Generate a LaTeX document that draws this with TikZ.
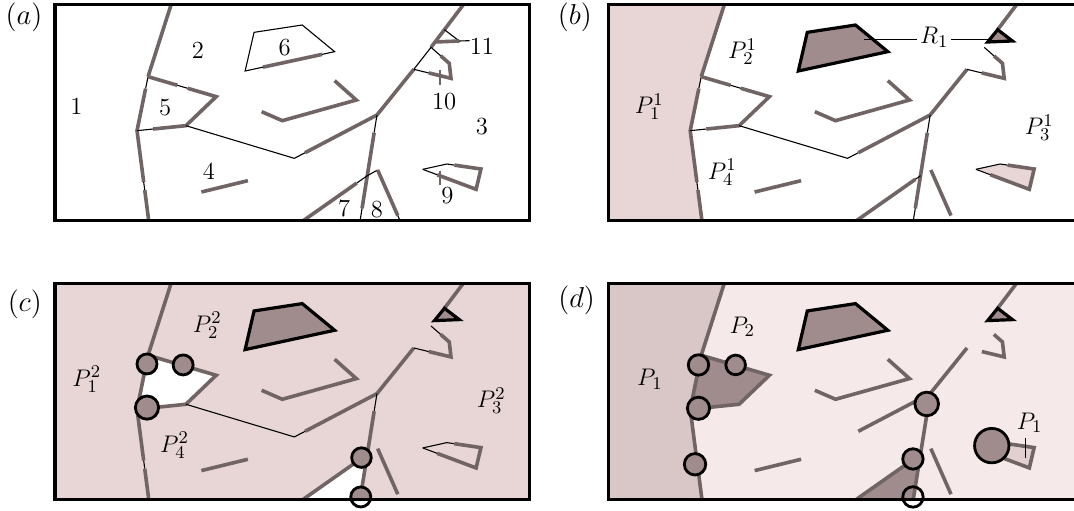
\documentclass[tikz,border=0pt]{standalone}
\usepackage{fontspec}
\usetikzlibrary{calc}
\definecolor{gline}{RGB}{112,100,100}
\definecolor{dfill}{RGB}{160,140,140}
\definecolor{pinkA}{RGB}{232,214,214}
\definecolor{pinkL}{RGB}{245,233,233}
\definecolor{pinkD}{RGB}{217,199,199}
\definecolor{pinkN}{RGB}{226,207,207}
\newcommand\dgPts{%
\coordinate (FR1) at (160,14); \coordinate (FR2) at (1537,662); \coordinate (FR3) at (160,662);
\coordinate (L0) at (497,14); \coordinate (L1) at (430,230); \coordinate (L2) at (398,392); \coordinate (L3) at (432,662);
\coordinate (F1) at (628,290); \coordinate (F2) at (540,377);
\coordinate (M1) at (855,475); \coordinate (J) at (1095,345);
\coordinate (T1) at (1202,208); \coordinate (T2) at (1252,142);
\coordinate (Q1) at (1262,126); \coordinate (Q2) at (1291,89); \coordinate (Q3) at (1334,123);
\coordinate (R0) at (1346,14);
\coordinate (P10a) at (1305,190); \coordinate (P10b) at (1310,235);
\coordinate (S1) at (738,97); \coordinate (S2) at (878,75); \coordinate (S3) at (972,155); \coordinate (S4) at (712,213);
\coordinate (V1) at (972,242); \coordinate (V2) at (1035,300); \coordinate (V3) at (820,362); \coordinate (V4) at (760,335);
\coordinate (G1) at (585,576); \coordinate (G2) at (720,542);
\coordinate (B1) at (1046,662);
\coordinate (E1) at (881,662); \coordinate (X) at (1067,527); \coordinate (K) at (1097,510); \coordinate (E2) at (1162,662);
\coordinate (N1) at (1228,508); \coordinate (N2) at (1298,492); \coordinate (N3) at (1397,507); \coordinate (N4) at (1383,568);
}
\newcommand\dgChain{%
\draw[gl] (L0) -- (L1);
\draw[tl] (L1) -- ($(L1)!0.22!(L2)$);
\draw[gl] ($(L1)!0.22!(L2)$) -- (L2) -- ($(L2)!0.57!(L3)$);
\draw[tl] ($(L2)!0.57!(L3)$) -- ($(L2)!0.66!(L3)$);
\draw[gl] ($(L2)!0.66!(L3)$) -- (L3);}
\newcommand\dgFive{%
\draw[gl] (L1) -- ($(L1)!0.43!(F1)$);
\draw[tl] ($(L1)!0.43!(F1)$) -- ($(L1)!0.58!(F1)$);
\draw[gl] ($(L1)!0.58!(F1)$) -- (F1) -- (F2) -- ($(F2)!0.67!(L2)$);
\draw[tl] ($(F2)!0.67!(L2)$) -- (L2);}
\newcommand\dgMid{%
\draw[tl] (F2) -- (M1) -- ($(M1)!0.13!(J)$);
\draw[gl] ($(M1)!0.13!(J)$) -- (J) -- (T1);}
\newcommand\dgTen{%
\draw[tl] (T2) -- ($(T2)!0.53!(P10a)$);
\draw[gl] ($(T2)!0.53!(P10a)$) -- (P10a) -- (P10b) -- ($(P10b)!0.6!(T1)$);
\draw[tl] ($(P10b)!0.6!(T1)$) -- (T1);}
\newcommand\dgVee{\draw[gl] (V1) -- (V2) -- (V3) -- (V4); \draw[gl] (G1) -- (G2);}
\newcommand\dgVert{%
\draw[tl] (J) -- ($(J)!0.167!(B1)$);
\draw[gl] ($(J)!0.167!(B1)$) -- ($(J)!0.883!(B1)$);
\draw[tl] ($(J)!0.883!(B1)$) -- (B1);}
\newcommand\dgNine{%
\draw[tl] (N1) -- (N2) -- ($(N2)!0.22!(N3)$);
\draw[gl] ($(N2)!0.22!(N3)$) -- (N3) -- (N4) -- ($(N4)!0.73!(N1)$);
\draw[tl] ($(N4)!0.73!(N1)$) -- (N1);}
\newcommand\dgObst{%
\draw[gl] (Q2) -- (R0);
\draw[obst] (S1) -- (S2) -- (S3) -- (S4) -- cycle;
\draw[obst] (Q1) -- (Q2) -- (Q3) -- cycle;}
\newcommand\dgRing[3]{\node[ringo,minimum size=#3] (#1) at #2 {};}
\newcommand\dgRingF[3]{\node[ringf,minimum size=#3] (#1f) at #2 {};}
\begin{document}
\begin{tikzpicture}[x=0.5pt,y=-0.5pt,
  gl/.style={draw=gline,line width=1.8pt},
  tl/.style={draw=black,line width=0.55pt},
  gtick/.style={draw=gline,line width=0.9pt},
  framebox/.style={draw=black,line width=1.6pt},
  obst/.style={draw=black,line width=1.6pt,fill=dfill},
  ringo/.style={circle,draw=black,line width=1.4pt,inner sep=0pt},
  ringf/.style={circle,fill=dfill,inner sep=0pt},
  lab/.style={font=\fontsize{12.3}{14}\selectfont,inner sep=0pt},
  plab/.style={font=\fontsize{14.5}{17}\selectfont,inner sep=0pt}]
\clip (0,0) rectangle (1074,510);
\fill[white] (0,0) rectangle (1074,510);
% ---------------- (a)
\begin{scope}[xscale=1/2.905,yscale=1/3]
\dgPts
\dgChain
\dgFive
\dgMid
\draw[tl] (T1) -- (T2);
\draw[gl] (T2) -- (R0);
\dgTen
\draw[gtick] (1278,210) -- (1278,255);
\coordinate (l11) at (1364,122);
\draw[tl] (Q2) -- (Q3) -- (l11);
\draw[gl] (Q1) -- (Q3);
\draw[tl] (S1) -- (S2) -- (S3) -- ($(S3)!0.14!(S4)$);
\draw[gl] ($(S3)!0.14!(S4)$) -- ($(S3)!0.80!(S4)$);
\draw[tl] ($(S3)!0.80!(S4)$) -- (S4) -- (S1);
\dgVee
\dgVert
\draw[gl] (E1) -- ($(E1)!0.833!(X)$);
\draw[tl] ($(E1)!0.833!(X)$) -- (X) -- (K);
\draw[gl] (K) -- ($(K)!0.9!(E2)$);
\draw[tl] ($(K)!0.9!(E2)$) -- (E2);
\dgNine
\draw[gtick] (1278,512) -- (1278,555);
\draw[framebox] (FR1) rectangle (FR2);
\node[lab] (a1) at (222,318) {1};
\node[lab] (a2) at (575,150) {2};
\node[lab] (a3) at (1400,380) {3};
\node[lab] (a4) at (607,515) {4};
\node[lab] (a5) at (480,322) {5};
\node[lab] (a6) at (827,142) {6};
\node[lab] (a7) at (1000,625) {7};
\node[lab] (a8) at (1095,628) {8};
\node[lab] (a9) at (1300,588) {9};
\node[lab] (a10) at (1290,305) {10};
\node[lab] (a11) at (1400,140) {11};
\node[plab] (pa) at (70,52) {$(a)$};
\end{scope}
% ---------------- (b)
\begin{scope}[shift={(553.2,0)},xscale=1/2.905,yscale=1/3]
\dgPts
\fill[pinkA] (FR1) -- (L0) -- (L1) -- (L2) -- (L3) -- (FR3) -- cycle;
\fill[pinkA] (N1) -- (N2) -- (N3) -- (N4) -- cycle;
\dgChain
\dgFive
\dgMid
\dgTen
\dgVee
\dgVert
\draw[gl] (E1) -- ($(E1)!0.92!(X)$);
\draw[tl] ($(E1)!0.92!(X)$) -- (X);
\draw[gl] (K) -- ($(K)!0.9!(E2)$);
\dgNine
\dgObst
\coordinate (r1a) at (904,118);
\coordinate (r1b) at (1268,118);
\node[lab,anchor=mid,inner sep=1.3pt] (rl) at (1107,118) {$R_1$};
\draw[tl] (r1a) -- (rl.mid west);
\draw[tl] (rl.mid east) -- (r1b);
\draw[framebox] (FR1) rectangle (FR2);
\node[lab] (b1) at (279,320) {$P_1^1$};
\node[lab] (b2) at (550,155) {$P_2^1$};
\node[lab] (b3) at (1412,383) {$P_3^1$};
\node[lab] (b4) at (491,517) {$P_4^1$};
\node[plab] (pb) at (63,52) {$(b)$};
\end{scope}
% ---------------- (c)
\begin{scope}[shift={(0,278.6)},xscale=1/2.905,yscale=1/3]
\dgPts
\fill[pinkA] (FR1) rectangle (FR2);
\fill[white] (L1) -- (F1) -- (F2) -- (L2) -- cycle;
\fill[white] (E1) -- (X) -- (B1) -- cycle;
\dgChain
\dgFive
\dgMid
\dgTen
\dgVee
\dgVert
\draw[gl] (E1) -- ($(E1)!0.9!(X)$);
\draw[gl] (K) -- ($(K)!0.9!(E2)$);
\dgNine
\dgObst
\begin{scope}
\clip (FR1) rectangle (FR2);
\dgRingF{c1}{(427,256)}{10pt}
\dgRingF{c2}{(532,259)}{10pt}
\dgRingF{c3}{(427,387)}{11.6pt}
\dgRingF{c4}{(1050,537)}{9.8pt}
\dgRingF{c5}{(1048,655)}{10pt}
\end{scope}
\dgRing{c1}{(427,256)}{10pt}
\dgRing{c2}{(532,259)}{10pt}
\dgRing{c3}{(427,387)}{11.6pt}
\dgRing{c4}{(1050,537)}{9.8pt}
\dgRing{c5}{(1048,655)}{10pt}
\draw[framebox] (FR1) rectangle (FR2);
\node[lab] (c1l) at (252,302) {$P_1^2$};
\node[lab] (c2l) at (602,139) {$P_2^2$};
\node[lab] (c3l) at (1427,366) {$P_3^2$};
\node[lab] (c4l) at (507,499) {$P_4^2$};
\node[plab] (pc) at (72,77) {$(c)$};
\end{scope}
% ---------------- (d)
\begin{scope}[shift={(553.2,278.6)},xscale=1/2.905,yscale=1/3]
\dgPts
\fill[pinkL] (FR1) rectangle (FR2);
\fill[pinkD] (FR1) -- (L0) -- (L1) -- (L2) -- (L3) -- (FR3) -- cycle;
\fill[dfill] (L1) -- (F1) -- (F2) -- (L2) -- cycle;
\fill[dfill] (E1) -- (X) -- (B1) -- cycle;
\fill[pinkN] (N1) -- (N2) -- (N3) -- (N4) -- cycle;
\draw[gl] (L0) -- (L1) -- (L2) -- (L3);
\draw[gl] (L1) -- (F1) -- (F2) -- (L2);
\draw[gl] ($(M1)!0.13!(J)$) -- (J) -- (T1);
\draw[gl] ($(T2)!0.53!(P10a)$) -- (P10a) -- (P10b) -- ($(P10b)!0.6!(T1)$);
\dgVee
\draw[gl] (J) -- (B1);
\draw[gl] (E1) -- (X);
\draw[gl] (K) -- ($(K)!0.9!(E2)$);
\draw[gl] ($(N2)!0.22!(N3)$) -- (N3) -- (N4) -- ($(N4)!0.73!(N1)$);
\dgObst
\dgRingF{d1}{(422,259)}{10.2pt}
\dgRingF{d2}{(530,259)}{9.8pt}
\dgRingF{d3}{(422,389)}{11.1pt}
\dgRingF{d4}{(412,557)}{10.7pt}
\dgRingF{d5}{(1085,376)}{11.8pt}
\dgRingF{d6}{(1045,541)}{10.2pt}
\dgRingF{d8}{(1274,501)}{17.2pt}
\dgRing{d1}{(422,259)}{10.2pt}
\dgRing{d2}{(530,259)}{9.8pt}
\dgRing{d3}{(422,389)}{11.1pt}
\dgRing{d4}{(412,557)}{10.7pt}
\dgRing{d5}{(1085,376)}{11.8pt}
\dgRing{d6}{(1045,541)}{10.2pt}
\dgRing{d7}{(1045,655)}{10.2pt}
\dgRing{d8}{(1274,501)}{17.2pt}
\draw[tl] (1371,479) -- (1371,539);
\draw[framebox] (FR1) rectangle (FR2);
\node[lab] (d1l) at (281,302) {$P_1$};
\node[lab] (d2l) at (549,144) {$P_2$};
\node[lab] (d3l) at (1384,432) {$P_1$};
\node[plab] (pd) at (68,64) {$(d)$};
\end{scope}
\end{tikzpicture}
\end{document}
